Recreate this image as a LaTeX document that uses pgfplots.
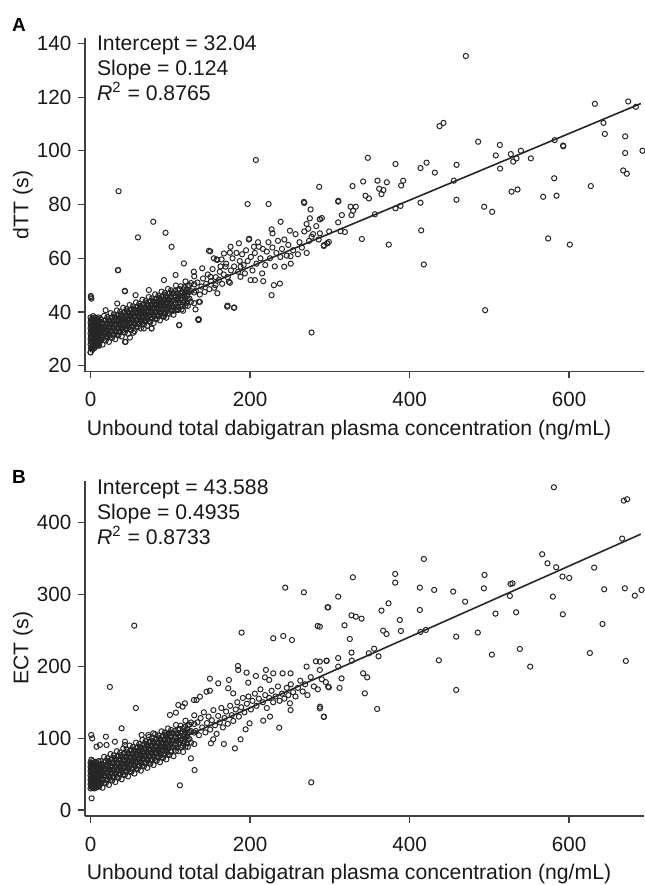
\documentclass[border=0pt]{standalone}
\usepackage{pgfplots}
\pgfplotsset{compat=1.18}
\usepackage{fontspec}
\setmainfont{Liberation Sans}

\pgfplotsset{
  panel/.style={
    scale only axis,
    width=279.5pt,
    anchor=south west,
    axis x line*=bottom,
    axis y line*=left,
    axis line style={black!75, line width=0.6pt},
    every tick/.style={black!75, line width=0.6pt},
    tick align=outside,
    major tick length=3.3pt,
    xmin=-7, xmax=694,
    xtick={0,200,400,600},
    /pgf/number format/assume math mode=true,
    tick label style={font=\fontsize{10.3}{12}\selectfont, text=black!90},
    xticklabel style={yshift=-3.5pt},
    label style={font=\fontsize{10.6}{12}\selectfont, text=black!90},
    xlabel={Unbound total dabigatran plasma concentration (ng/mL)},
    xlabel style={at={(axis description cs:0.4723,0)}, anchor=center, yshift=-29pt},
    ylabel style={at={(axis description cs:-0.111,0.5)}, anchor=center},
  },
  pts/.style={only marks, mark=o, mark size=1.3pt,
    mark options={line width=0.5pt, draw=black!85}},
  fit/.style={no marks, black!85, line width=0.8pt},
}

\begin{document}
\begin{tikzpicture}
\useasboundingbox (0,0) rectangle (322pt,-442.5pt);

% ---------- panel A: dTT ----------
\begin{axis}[panel, at={(42.5pt,-185.85pt)}, height=166.85pt,
  ymin=17.8, ymax=142, ytick={20,40,60,80,100,120,140},
  ylabel={dTT (s)}]
% dense cluster near zero
\addplot[pts] coordinates {
(0,25)(0,28)(0,30)(0,32)(0,34)(0,36)(0,38)
(1,27)(1,29)(1,31)(1,33)(1,35)(1,37)
(2,26)(2,28.5)(2,30.5)(2,32.5)(2,34.5)(2,36.5)
(3,27.5)(3,30)(3,32)(3,34)(3,36)(3,38.5)
(4,28)(4,30)(4,32.5)(4,35)(4,37)
(5,27)(5,29.5)(5,31.5)(5,33.5)(5,35.5)
(6,28.5)(6,31)(6,33)(6,36)(6,38)
(7,28)(7,30.5)(7,32)(7,34.5)(7,37)
(8,29)(8,31)(8,33.5)(8,35.5)
(9,27.5)(9,30)(9,32.5)(9,34)(9,36.5)
(10,29)(10,31.5)(10,33)(10,35)(10,38)
(0.5,26.5)(0.5,29)(0.5,31)(0.5,33)(0.5,35)(0.5,37)
(2.5,27)(2.5,29.5)(2.5,31.5)(2.5,33.5)(2.5,35.5)(2.5,37.5)
(4.5,26.5)(4.5,29)(4.5,31)(4.5,33.8)(4.5,36)
(6.5,27.5)(6.5,29.8)(6.5,32.5)(6.5,34.8)(6.5,37)
(8.5,28)(8.5,30.5)(8.5,32)(8.5,34.5)(8.5,37.5)
(10.5,27.5)(10.5,30)(10.5,32.5)(10.5,34.5)(10.5,36.5)
(0.5,45.5)(1,45)(0.3,46)
};
% main band
\addplot[pts] coordinates {
(11,28.4)(11,30.9)(11,33.4)(11,35.9)
(13,29.6)(13,32.1)(13,34.6)(13,37.1)
(15,27.9)(15,30.9)(15,33.4)(15,35.9)
(17,29.6)(17,32.1)(17,34.6)(17,38.6)
(19,29.4)(19,31.9)(19,34.4)(19,36.9)
(21,30.6)(21,33.1)(21,35.6)(21,38.1)
(23,28.9)(23,31.9)(23,34.4)(23,36.9)
(25,30.6)(25,33.1)(25,35.6)(25,39.6)
(27,30.4)(27,32.9)(27,35.4)(27,37.9)
(29,31.6)(29,34.1)(29,36.6)(29,39.1)
(31,29.9)(31,32.9)(31,35.4)(31,37.9)
(33,31.6)(33,34.1)(33,36.6)(33,40.6)
(35,31.4)(35,33.9)(35,36.4)(35,38.9)
(37,32.6)(37,35.1)(37,37.6)(37,40.1)
(39,30.9)(39,33.9)(39,36.4)(39,38.9)
(41,32.6)(41,35.1)(41,37.6)(41,41.6)
(43,32.4)(43,34.9)(43,37.4)(43,39.9)
(45,33.6)(45,36.1)(45,38.6)(45,41.1)
(47,31.9)(47,34.9)(47,37.4)(47,39.9)
(49,33.6)(49,36.1)(49,38.6)(49,42.6)
(51,33.4)(51,35.9)(51,38.4)(51,40.9)
(53,34.6)(53,37.1)(53,39.6)(53,42.1)
(55,32.9)(55,35.9)(55,38.4)(55,40.9)
(57,34.6)(57,37.1)(57,39.6)(57,43.6)
(59,34.4)(59,36.9)(59,39.4)(59,41.9)
(61,35.6)(61,38.1)(61,40.6)(61,43.1)
(63,33.9)(63,36.9)(63,39.4)(63,41.9)
(65,35.6)(65,38.1)(65,40.6)(65,44.6)
(67,35.4)(67,37.9)(67,40.4)(67,42.9)
(69,36.6)(69,39.1)(69,41.6)(69,44.1)
(71,34.9)(71,37.9)(71,40.4)(71,42.9)
(73,36.6)(73,39.1)(73,41.6)(73,45.6)
(75,36.4)(75,38.9)(75,41.4)(75,43.9)
(77,37.6)(77,40.1)(77,42.6)(77,45.1)
(79,35.9)(79,38.9)(79,41.4)(79,43.9)
(81,37.6)(81,40.1)(81,42.6)(81,46.6)
(83,37.4)(83,39.9)(83,42.4)(83,44.9)
(85,38.6)(85,41.1)(85,43.6)(85,46.1)
(87,36.9)(87,39.9)(87,42.4)(87,44.9)
(89,38.6)(89,41.1)(89,43.6)(89,47.6)
(91,38.4)(91,40.9)(91,43.4)(91,45.9)
(93,39.6)(93,42.1)(93,44.6)(93,47.1)
(95,37.9)(95,40.9)(95,43.4)(95,45.9)
(97,39.6)(97,42.1)(97,44.6)(97,48.6)
(99,39.4)(99,41.9)(99,44.4)(99,46.9)
(101,40.6)(101,43.1)(101,45.6)(101,48.1)
(104,39)(104,42)(104,44.5)(104,47)
(107,40.9)(107,43.4)(107,45.9)(107,49.9)
(110,40.8)(110,43.3)(110,45.8)(110,48.3)
(113,42.1)(113,44.6)(113,47.1)(113,49.6)
(116,40.5)(116,43.5)(116,46)(116,48.5)
(119,42.4)(119,44.9)(119,47.4)(119,51.4)
(122,42.3)(122,44.8)(122,47.3)(122,49.8)
(126,43.8)(126,47.8)(126,50.8)
(130,43.3)(130,47.3)(130,50.3)(130,53.3)
(12,29.8)(12,32.3)(12,34.8)(14,31.3)(14,33.8)(14,36.3)
(16,30.3)(16,32.8)(16,35.3)(18,31.8)(18,34.3)(18,36.8)
(20,30.8)(20,33.3)(20,35.8)(22,32.3)(22,34.8)(22,37.3)
(24,31.3)(24,33.8)(24,36.3)(26,32.8)(26,35.3)(26,37.8)
(28,31.8)(28,34.3)(28,36.8)(30,33.3)(30,35.8)(30,38.3)
(32,32.3)(32,34.8)(32,37.3)(34,33.8)(34,36.3)(34,38.8)
(36,32.8)(36,35.3)(36,37.8)(38,34.3)(38,36.8)(38,39.3)
(40,33.3)(40,35.8)(40,38.3)(42,34.8)(42,37.3)(42,39.8)
(44,33.8)(44,36.3)(44,38.8)(46,35.3)(46,37.8)(46,40.3)
(48,34.3)(48,36.8)(48,39.3)(50,35.8)(50,38.3)(50,40.8)
(52,34.8)(52,37.3)(52,39.8)(54,36.3)(54,38.8)(54,41.3)
(56,35.3)(56,37.8)(56,40.3)(58,36.8)(58,39.3)(58,41.8)
(60,35.8)(60,38.3)(60,40.8)(62,37.3)(62,39.8)(62,42.3)
(64,36.3)(64,38.8)(64,41.3)(66,37.8)(66,40.3)(66,42.8)
(68,36.8)(68,39.3)(68,41.8)(70,38.3)(70,40.8)(70,43.3)
(72,37.3)(72,39.8)(72,42.3)(74,38.8)(74,41.3)(74,43.8)
(76,37.8)(76,40.3)(76,42.8)(78,39.3)(78,41.8)(78,44.3)
(80,38.3)(80,40.8)(80,43.3)(82,39.8)(82,42.3)(82,44.8)
(84,38.8)(84,41.3)(84,43.8)(86,40.3)(86,42.8)(86,45.3)
(88,39.3)(88,41.8)(88,44.3)(90,40.8)(90,43.3)(90,45.8)
(92,39.8)(92,42.3)(92,44.8)(94,41.3)(94,43.8)(94,46.3)
(96,40.3)(96,42.8)(96,45.3)(98,41.8)(98,44.3)(98,46.8)
(100,40.8)(100,43.3)(100,45.8)(102,42.3)(102,44.8)(102,47.3)
(106,42.8)(106,45.3)(106,47.8)(109,41.9)(109,44.4)(109,46.9)
(112,43.5)(112,46)(112,48.5)(115,42.7)(115,45.2)(115,47.7)
(118,44.3)(118,46.8)(118,49.3)(121,43.4)(121,45.9)(121,48.4)
(124,45)(124,47.5)(124,50)
};
% middle range
\addplot[pts] coordinates {
(132,48)(134,51)(137,46.5)(139,49.5)(141,52.5)(143,47.5)(145,50.5)(147,54)
(149,48.5)(151,51.5)(153,56)(155,49)(157,53)(159,47)(161,52)(163,57)
(165,50.5)(167,54)(170,58)(172,53)(176,55.5)(178,60)(180,57)(183,62)
(185,55)(187,59)(190,61.5)(192,57.5)(195,63)(197,59)(201,60.5)(203,55.5)
(206,62)(208,58)(210,66)(213,60)(216,63.5)(219,57.5)(221,62.5)(223,66)
(225,60)(228,64)(231,57)(233,62)(235,66.5)(238,60.5)(240,63.5)(243,67)
(246,61)(248,65)(251,58)(254,63)(257,69)(260,61.5)(262,66)(265,64)
(268,70)(271,62)(274,66.5)(279,69)(283,72)(286,67)(290,75)
(150.1,62.6)(158,59.6)(164.3,59.6)(174.7,62.1)(198.9,67.3)(227,70.8)
(228.2,69.3)(238.3,73.6)(250,70.3)(270.9,72.8)(273,71)(275,74.9)
(287.6,74.5)(292.6,64.9)(296.8,65.6)(277.1,68)(250.8,60.8)(242.8,56.9)
(237.4,50.6)(229.9,50)(227,46.3)(206.1,51.9)(216.5,51.5)(193.5,54.4)
(174.7,50.9)(137.1,43.8)(103.7,40.5)(107.8,40.7)(114.1,41)(158.8,59.4)
(167.2,61.8)(175.5,64.3)(186,65.6)(198.5,67)(211,64.3)(188,53.1)
(200.6,51.9)(173.4,51.3)(171.3,42)(179.7,41.6)(135.8,43.8)(135,37.3)
(131.6,41)(156.7,50)(150.4,53.1)(162.1,55)(169.3,56.9)(154.6,60)
(188.1,56.9)(204.8,64.3)(215.2,54.4)(148.4,62.8)(140,56.3)(129.5,55)
(117,58.1)(106.6,53.8)(92,51.9)(73.1,48.2)(56.4,46.3)(33.4,43.2)
(18.8,40.7)(8.3,37.6)(43.9,28.9)(53.5,32.3)(66.8,33.9)(111.1,35.2)
(135.8,37.3)(92,38.3)(76.5,33.9)
};
% outliers and sparse high range
\addplot[pts] coordinates {
(207.3,96.6)(35.1,85)(286.7,86.6)(196.9,80.2)(223.2,80.2)(267.5,81)
(268,80.6)(275.9,78.2)(78.6,73.6)(94,69.5)(59.4,67.8)(101.6,64.3)
(34.7,55.6)(43.1,47.7)(277.1,32.4)(171.8,42.4)(180.2,41.7)(135.4,37)
(111.2,35.1)(76.5,33.9)(43.1,28.9)(49.3,30.5)(0,25)(43,47.9)(34.2,55.6)
(470.6,135.3)(674.2,118.4)(632.4,117.5)(683.8,116.4)(437.6,109.2)
(442.6,110.4)(643.2,110.4)(644.9,106.3)(670.4,105.4)(486,103.4)
(513.2,102.2)(592.6,102)(592.8,101.7)(692.1,100.05)(539.6,100.05)
(527,98.8)(508.2,98.3)(670.4,99.2)(530,96)(534.1,97.2)(552.1,97.2)
(347.7,97.4)(382.4,95.1)(421.3,95.6)(413.7,93.6)(458.9,94.8)(431.7,91.9)
(513.6,93.4)(667.9,92.7)(672.5,91.5)(341.8,88.6)(359.8,88.9)(371.5,88.3)
(392,88.9)(389.5,87.1)(328.5,86.9)(361.9,85.9)(367.3,85.4)(364.8,83.9)
(344.8,83.3)(349,82.3)(455.5,88.9)(581.4,89.8)(527.9,84.8)(535.4,85.6)
(567.6,82.9)(584.3,83.3)(627.3,86.9)(458.9,81.8)(310.5,81.1)(310.7,81.4)
(413.7,80.7)(326,79.2)(332.6,79.2)(329.3,77.7)(327.2,76.1)(315.1,76.1)
(382.4,78.6)(388.7,79.5)(356.5,76.4)(310.5,73.4)(313.4,70.1)(318.9,69.8)
(299.2,70)(287.5,74.6)(287.5,69.3)(414.6,70.4)(340.2,67.2)(374,65.1)
(292.5,64.6)(296.7,65.6)(298.8,66.1)(417.9,57.7)(493.6,79.2)(503.6,77.3)
(573.8,67.4)(601,65.1)(494.8,40.7)(582,104)
};
\addplot[fit] coordinates {(0,32.04) (690,117.60)};
\end{axis}

% ---------- panel B: ECT ----------
\begin{axis}[panel, at={(42.5pt,-408pt)}, height=167.65pt,
  ymin=-8.4, ymax=458.5, ytick={0,100,200,300,400},
  ylabel={ECT (s)}]
\addplot[pts] coordinates {
(0,30)(0,36)(0,42)(0,48)(0,54)(0,60)(0,66)
(1,33)(1,39)(1,45)(1,51)(1,57)(1,63)(1,70)
(2,31)(2,37)(2,43)(2,49)(2,55)(2,61)
(3,34)(3,40)(3,46)(3,52)(3,58)(3,64)
(4,32)(4,38)(4,44)(4,50)(4,56)(4,62)
(5,35)(5,41)(5,47)(5,53)(5,59)(5,66)
(6,33)(6,39)(6,45)(6,51)(6,57)(6,63)
(7,36)(7,42)(7,48)(7,54)(7,60)
(8,34)(8,40)(8,46)(8,52)(8,58)(8,65)
(9,37)(9,43)(9,49)(9,55)(9,61)
(10,35)(10,41)(10,47)(10,53)(10,59)(10,68)
(0.5,33)(0.5,39)(0.5,45)(0.5,51)(0.5,57)(0.5,63)
(2.5,34)(2.5,40)(2.5,46)(2.5,52)(2.5,58)(2.5,64)(2.5,68)
(4.5,30)(4.5,36)(4.5,42)(4.5,48)(4.5,54)(4.5,60)
(6.5,31)(6.5,37)(6.5,43)(6.5,49)(6.5,55)(6.5,61)(6.5,67)
(8.5,32)(8.5,38)(8.5,44)(8.5,50)(8.5,56)(8.5,62)
(10.5,33)(10.5,39)(10.5,45)(10.5,51)(10.5,57)(10.5,63)
};
\addplot[pts] coordinates {
(11,33)(11,43)(11,53)(11,63)
(13,38)(13,48)(13,58)(13,68)
(15,31)(15,43)(15,53)(15,63)
(17,38)(17,48)(17,58)(17,74)
(19,37)(19,47)(19,57)(19,67)
(21,42)(21,52)(21,62)(21,72)
(23,34.9)(23,46.9)(23,56.9)(23,66.9)
(25,41.9)(25,51.9)(25,61.9)(25,77.9)
(27,40.9)(27,50.9)(27,60.9)(27,70.9)
(29,45.9)(29,55.9)(29,65.9)(29,75.9)
(31,38.9)(31,50.9)(31,60.9)(31,70.9)
(33,45.9)(33,55.9)(33,65.9)(33,81.9)
(35,44.9)(35,54.9)(35,64.9)(35,74.9)
(37,49.9)(37,59.9)(37,69.9)(37,79.9)
(39,42.8)(39,54.8)(39,64.8)(39,74.8)
(41,49.8)(41,59.8)(41,69.8)(41,85.8)
(43,48.8)(43,58.8)(43,68.8)(43,78.8)
(45,53.8)(45,63.8)(45,73.8)(45,83.8)
(47,46.8)(47,58.8)(47,68.8)(47,78.8)
(49,53.8)(49,63.8)(49,73.8)(49,89.8)
(51,52.8)(51,62.8)(51,72.8)(51,82.8)
(53,57.8)(53,67.8)(53,77.8)(53,87.8)
(55,50.7)(55,62.7)(55,72.7)(55,82.7)
(57,57.7)(57,67.7)(57,77.7)(57,93.7)
(59,56.7)(59,66.7)(59,76.7)(59,86.7)
(61,61.7)(61,71.7)(61,81.7)(61,91.7)
(63,54.7)(63,66.7)(63,76.7)(63,86.7)
(65,61.7)(65,71.7)(65,81.7)(65,97.7)
(67,60.7)(67,70.7)(67,80.7)(67,90.7)
(69,65.7)(69,75.7)(69,85.7)(69,95.7)
(71,58.6)(71,70.6)(71,80.6)(71,90.6)
(73,65.6)(73,75.6)(73,85.6)(73,101.6)
(75,64.6)(75,74.6)(75,84.6)(75,94.6)
(77,69.6)(77,79.6)(77,89.6)(77,99.6)
(79,62.6)(79,74.6)(79,84.6)(79,94.6)
(81,69.6)(81,79.6)(81,89.6)(81,105.6)
(83,68.6)(83,78.6)(83,88.6)(83,98.6)
(85,73.5)(85,83.5)(85,93.5)(85,103.5)
(87,66.5)(87,78.5)(87,88.5)(87,98.5)
(89,73.5)(89,83.5)(89,93.5)(89,109.5)
(91,72.5)(91,82.5)(91,92.5)(91,102.5)
(93,77.5)(93,87.5)(93,97.5)(93,107.5)
(95,70.5)(95,82.5)(95,92.5)(95,102.5)
(97,77.5)(97,87.5)(97,97.5)(97,113.5)
(99,76.5)(99,86.5)(99,96.5)(99,106.5)
(101,81.4)(101,91.4)(101,101.4)(101,111.4)
(104,74.9)(104,86.9)(104,96.9)(104,106.9)
(107,82.4)(107,92.4)(107,102.4)(107,118.4)
(110,81.9)(110,91.9)(110,101.9)(110,111.9)
(113,87.4)(113,97.4)(113,107.4)(113,117.4)
(116,80.8)(116,92.8)(116,102.8)(116,112.8)
(119,88.3)(119,98.3)(119,108.3)(119,124.3)
(122,87.8)(122,97.8)(122,107.8)(122,117.8)
(126,93.8)(126,109.8)(126,121.8)
(130,91.8)(130,107.8)(130,119.8)(130,131.8)
(12,38.7)(12,48.7)(12,58.7)(14,44.5)(14,54.5)(14,64.5)
(16,40.7)(16,50.7)(16,60.7)(18,46.5)(18,56.5)(18,66.5)
(20,42.7)(20,52.7)(20,62.7)(22,48.5)(22,58.5)(22,68.5)
(24,44.6)(24,54.6)(24,64.6)(26,50.4)(26,60.4)(26,70.4)
(28,46.6)(28,56.6)(28,66.6)(30,52.4)(30,62.4)(30,72.4)
(32,48.6)(32,58.6)(32,68.6)(34,54.4)(34,64.4)(34,74.4)
(36,50.6)(36,60.6)(36,70.6)(38,56.4)(38,66.4)(38,76.4)
(40,52.5)(40,62.5)(40,72.5)(42,58.3)(42,68.3)(42,78.3)
(44,54.5)(44,64.5)(44,74.5)(46,60.3)(46,70.3)(46,80.3)
(48,56.5)(48,66.5)(48,76.5)(50,62.3)(50,72.3)(50,82.3)
(52,58.5)(52,68.5)(52,78.5)(54,64.2)(54,74.2)(54,84.2)
(56,60.4)(56,70.4)(56,80.4)(58,66.2)(58,76.2)(58,86.2)
(60,62.4)(60,72.4)(60,82.4)(62,68.2)(62,78.2)(62,88.2)
(64,64.4)(64,74.4)(64,84.4)(66,70.2)(66,80.2)(66,90.2)
(68,66.4)(68,76.4)(68,86.4)(70,72.1)(70,82.1)(70,92.1)
(72,68.3)(72,78.3)(72,88.3)(74,74.1)(74,84.1)(74,94.1)
(76,70.3)(76,80.3)(76,90.3)(78,76.1)(78,86.1)(78,96.1)
(80,72.3)(80,82.3)(80,92.3)(82,78.1)(82,88.1)(82,98.1)
(84,74.3)(84,84.3)(84,94.3)(86,80)(86,90)(86,100)
(88,76.2)(88,86.2)(88,96.2)(90,82)(90,92)(90,102)
(92,78.2)(92,88.2)(92,98.2)(94,84)(94,94)(94,104)
(96,80.2)(96,90.2)(96,100.2)(98,86)(98,96)(98,106)
(100,82.2)(100,92.2)(100,102.2)(102,87.9)(102,97.9)(102,107.9)
(106,89.9)(106,99.9)(106,109.9)(109,86.6)(109,96.6)(109,106.6)
(112,92.9)(112,102.9)(112,112.9)(115,89.6)(115,99.6)(115,109.6)
(118,95.8)(118,105.8)(118,115.8)(121,92.5)(121,102.5)(121,112.5)
(124,98.8)(124,108.8)(124,118.8)
};
\addplot[pts] coordinates {
(132,110)(134,122)(136,104)(138,128)(140,115)(142,136)(144,108)(146,121)
(148,130)(150,112)(152,125)(154,139)(156,118)(158,106)(160,131)(162,122)
(164,142)(166,115)(168,128)(170,137)(172,120)(175,145)(177,132)(179,124)
(182,140)(184,150)(186,130)(189,143)(191,156)(193,136)(196,148)(198,158)
(201,140)(203,152)(206,162)(208,145)(211,155)(213,168)(216,150)(219,160)
(221,142)(224,156)(227,166)(229,150)(232,158)(235,172)(237,152)(240,162)
(243,155)(246,170)(248,160)(251,175)(254,164)(257,158)(260,170)(263,180)
(266,165)(269,175)(272,160)(276,185)(280,172)(285,168)(290,182)(295,178)
(184.8,200.5)(185.2,195)(195.6,191.2)(207.3,186.6)(197.7,177.3)(270.9,199.6)
(282.6,207)(296,208)(149.6,182.9)(160.1,176.4)(219.9,195)(229.1,190.3)
(240.8,190.3)(250.8,190.3)(218.6,184.7)(224,181)(173.5,181)(287.6,143.9)
(292.6,130)(298,171.7)(250,148.5)(250.8,139.2)(236.6,114.6)(225,130)
(216.5,124.4)(199.4,120.7)(194.4,112.3)(188.1,98.4)(181,85.8)(167.2,91.9)
(150.9,92.8)(153.8,98.4)(130.4,55.6)(112,34.3)(125.8,71.9)(276.7,38.5)
(99.5,132.3)(110,146.2)(107,135.5)(137.1,157.8)(132.9,153.1)(118.3,148.5)
(115.4,143.9)(149.6,166.1)(145.5,164.7)(129.6,153.1)(172.6,169.4)(178.9,162.4)
(244.1,309.6)(267.5,303.1)(297.2,282.2)(54.8,256.7)(189.4,247)(284.7,256.2)
(229.1,239.1)(241.6,242.3)(252.5,236.7)(24.2,171.3)(56.8,142)
(1.3,16.2)(0.8,104.4)(2.1,99.7)(38.9,113.7)(7.5,88.1)(11.7,90.5)(20,90.5)
(30.5,95.1)(43.1,95.1)(43.1,90.5)(19.2,102.1)(64,104.4)(72.3,104.4)
(78.6,106.7)(101.6,106.7)(95.3,105.3)
};
\addplot[pts] coordinates {
(581,449.4)(668.7,430.8)(672.9,432.7)(666.6,377.9)(566.3,356.1)(573,343.5)
(583.9,338)(417.9,349.5)(328.9,324)(382,328.7)(382,316.6)(494,327.3)
(631.5,337.5)(591.8,325)(600.2,323.1)(526.6,314.7)(529.1,315.6)(412.9,309.6)
(430.9,306.4)(454.7,304.1)(493.2,308.7)(670,308.7)(644.1,307.3)(690.9,306.4)
(682.5,298.5)(310.5,297.1)(525.8,298)(579.7,297.1)(373.6,287.8)(469.7,290.1)
(298,282.2)(364.8,277.6)(412.9,278.5)(507.8,273.4)(533.7,275.3)(592.2,272.5)
(327.2,271.1)(332.6,269.2)(339.8,266.4)(318.4,257.2)(387.8,264.6)(287.5,255.3)
(366.9,249.7)(371.1,245.1)(389.1,249.3)(413.7,247.9)(420.4,250.7)(485.6,247)
(458.5,241.4)(642,259)(325.1,238.1)(355.6,224.6)(348.9,218.2)(327.2,219.1)
(327.6,208)(310.5,211.6)(310.5,199.6)(295.9,207.5)(287.5,206.6)(287.5,195)
(361.1,214)(538.3,224.2)(503.2,216.3)(436.7,208.4)(551.3,199.6)(626.1,218.6)
(671.2,207.5)(341.8,190.3)(346.9,184.7)(314.7,183.3)(298.8,170.8)(312.2,169.9)
(343.9,162.4)(458.5,167.1)(359.4,140.6)(287.5,141.5)(292.5,129.5)
};
\addplot[fit] coordinates {(0,43.588) (690,384.10)};
\end{axis}

% panel letters and fit statistics
\begin{scope}[every node/.style={anchor=base west, inner sep=0pt}]
\node[font=\bfseries\fontsize{9.5}{11}\selectfont] at (5.85pt,-15.85pt) {A};
\node[font=\bfseries\fontsize{9.5}{11}\selectfont] at (5.85pt,-241.7pt) {B};
\end{scope}
\begin{scope}[every node/.style={anchor=base west, inner sep=0pt,
    font=\fontsize{10.6}{12}\selectfont, text=black!90}]
\node at (48.35pt,-25pt) {Intercept = 32.04};
\node at (48.35pt,-37.5pt) {Slope = 0.124};
\node at (48.35pt,-50pt) {\textit{R}\textsuperscript{2} = 0.8765};
\node at (48.35pt,-247pt) {Intercept = 43.588};
\node at (48.35pt,-259.7pt) {Slope = 0.4935};
\node at (48.35pt,-272pt) {\textit{R}\textsuperscript{2} = 0.8733};
\end{scope}
\end{tikzpicture}
\end{document}
